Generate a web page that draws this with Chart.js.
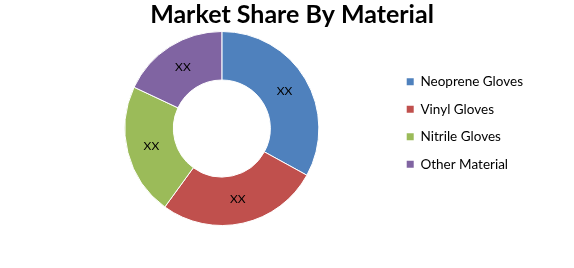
<!DOCTYPE html>
<html>
<head>
<meta charset="utf-8">
<script src="https://cdn.jsdelivr.net/npm/chart.js@4/dist/chart.umd.min.js"></script>
<style>
  body { margin: 0; background: #fff; }
  #wrap { width: 574px; height: 268px; position: relative; }
</style>
</head>
<body>
<div id="wrap"><canvas id="shareChart"></canvas></div>
<script>
// data
const materials = ['Neoprene Gloves', 'Vinyl Gloves', 'Nitrile Gloves', 'Other Material'];
const shares = [33, 27, 22, 18];
const sliceLabels = ['XX', 'XX', 'XX', 'XX'];
const sliceColors = ['#4F81BD', '#C0504D', '#9BBB59', '#8064A2'];

const fontFamily = 'Lato, "Open Sans", sans-serif';

// writes the "XX" text in the middle of every slice
const sliceLabelPlugin = {
    id: 'sliceLabels',
    afterDatasetsDraw(chart) {
        const ctx = chart.ctx;
        const meta = chart.getDatasetMeta(0);
        ctx.save();
        ctx.font = '12px ' + fontFamily;
        ctx.fillStyle = '#000';
        ctx.textAlign = 'center';
        ctx.textBaseline = 'middle';
        meta.data.forEach((arc, i) => {
            const p = arc.tooltipPosition();
            ctx.fillText(sliceLabels[i], p.x, p.y);
        });
        ctx.restore();
    }
};

const ctx = document.getElementById('shareChart');

new Chart(ctx, {
    type: 'doughnut',
    data: {
        labels: materials,
        datasets: [{
            data: shares,
            backgroundColor: sliceColors,
            borderColor: '#ffffff',
            borderWidth: 1
        }]
    },
    options: {
        responsive: true,
        maintainAspectRatio: false,
        animation: false,
        cutout: '50%',
        layout: {
            padding: { left: 51, right: 41, bottom: 42 }
        },
        plugins: {
            title: {
                display: true,
                text: 'Market Share By Material',
                color: '#000',
                font: { family: fontFamily, size: 25, weight: 'bold' },
                padding: { top: 0, bottom: 1 }
            },
            legend: {
                position: 'right',
                // empty title only pushes the items down a little
                title: {
                    display: true,
                    text: '',
                    font: { size: 10 },
                    padding: { top: 4, bottom: 4 }
                },
                labels: {
                    color: '#000',
                    boxWidth: 7,
                    boxHeight: 7,
                    padding: 14,
                    font: { family: fontFamily, size: 13.5 },
                    generateLabels: (chart) =>
                        Chart.overrides.doughnut.plugins.legend.labels.generateLabels(chart)
                            .map(item => ({ ...item, lineWidth: 0 }))
                }
            },
            tooltip: { enabled: false }
        }
    },
    plugins: [sliceLabelPlugin]
});
</script>
</body>
</html>
